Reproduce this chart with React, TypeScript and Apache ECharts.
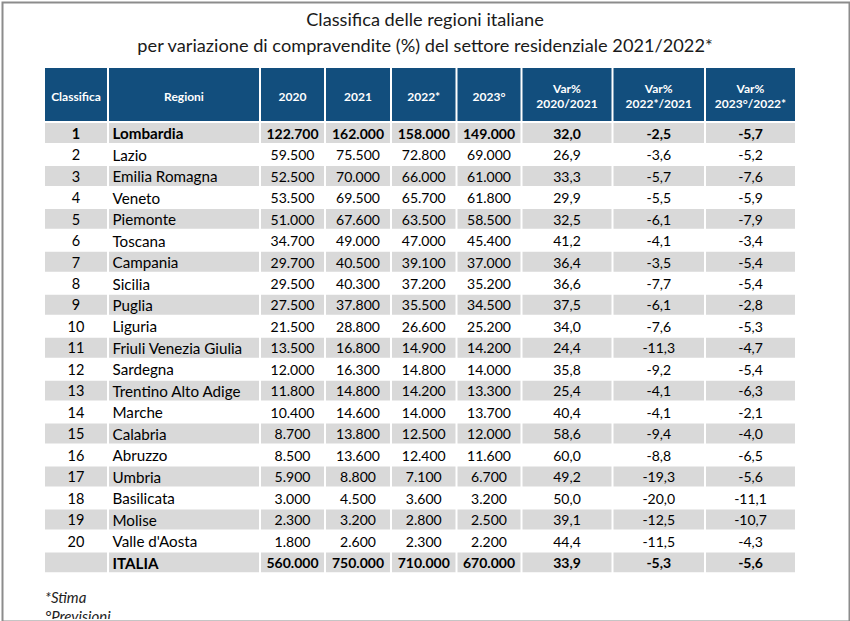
import React, { useEffect, useRef } from "react";
import * as echarts from "echarts";

const TITLE_LINES = [
  "Classifica delle regioni italiane",
  "per variazione di compravendite (%) del settore residenziale 2021/2022*",
];
const HEADERS = [
  "Classifica",
  "Regioni",
  "2020",
  "2021",
  "2022*",
  "2023°",
  "Var%\n2020/2021",
  "Var%\n2022*/2021",
  "Var%\n2023°/2022*",
];
const RANKS = ["1", "2", "3", "4", "5", "6", "7", "8", "9", "10", "11", "12", "13", "14", "15", "16", "17", "18", "19", "20", ""];
const REGIONS = [
  "Lombardia", "Lazio", "Emilia Romagna", "Veneto", "Piemonte", "Toscana", "Campania", "Sicilia", "Puglia", "Liguria",
  "Friuli Venezia Giulia", "Sardegna", "Trentino Alto Adige", "Marche", "Calabria", "Abruzzo", "Umbria", "Basilicata",
  "Molise", "Valle d'Aosta", "ITALIA",
];
const V2020 = [122700, 59500, 52500, 53500, 51000, 34700, 29700, 29500, 27500, 21500, 13500, 12000, 11800, 10400, 8700, 8500, 5900, 3000, 2300, 1800, 560000];
const V2021 = [162000, 75500, 70000, 69500, 67600, 49000, 40500, 40300, 37800, 28800, 16800, 16300, 14800, 14600, 13800, 13600, 8800, 4500, 3200, 2600, 750000];
const V2022 = [158000, 72800, 66000, 65700, 63500, 47000, 39100, 37200, 35500, 26600, 14900, 14800, 14200, 14000, 12500, 12400, 7100, 3600, 2800, 2300, 710000];
const V2023 = [149000, 69000, 61000, 61800, 58500, 45400, 37000, 35200, 34500, 25200, 14200, 14000, 13300, 13700, 12000, 11600, 6700, 3200, 2500, 2200, 670000];
const VAR_20_21 = [32.0, 26.9, 33.3, 29.9, 32.5, 41.2, 36.4, 36.6, 37.5, 34.0, 24.4, 35.8, 25.4, 40.4, 58.6, 60.0, 49.2, 50.0, 39.1, 44.4, 33.9];
const VAR_22_21 = [-2.5, -3.6, -5.7, -5.5, -6.1, -4.1, -3.5, -7.7, -6.1, -7.6, -11.3, -9.2, -4.1, -4.1, -9.4, -8.8, -19.3, -20.0, -12.5, -11.5, -5.3];
const VAR_23_22 = [-5.7, -5.2, -7.6, -5.9, -7.9, -3.4, -5.4, -5.4, -2.8, -5.3, -4.7, -5.4, -6.3, -2.1, -4.0, -6.5, -5.6, -11.1, -10.7, -4.3, -5.6];
const BOLD_ROWS = ["Lombardia", "ITALIA"];
const NOTES = ["*Stima", "°Previsioni"];

// layout (not data)
const COL_W = [64, 152, 65, 66, 65.5, 65, 91, 92.5, 91];
const HEADER_H = 54.5;
const ROW_H = 21.47;
const FONT = "Lato, 'Open Sans', sans-serif";
const HEADER_BG = "#124e7d";
const STRIPE = "#d9d9d9";

const fmtInt = (n: number) => String(n).replace(/\B(?=(\d{3})+(?!\d))/g, ".");
const fmtDec = (n: number) => n.toFixed(1).replace(".", ",");

function buildCells() {
  const table: string[][] = [HEADERS];
  for (let i = 0; i < REGIONS.length; i++) {
    table.push([
      RANKS[i],
      REGIONS[i],
      fmtInt(V2020[i]),
      fmtInt(V2021[i]),
      fmtInt(V2022[i]),
      fmtInt(V2023[i]),
      fmtDec(VAR_20_21[i]),
      fmtDec(VAR_22_21[i]),
      fmtDec(VAR_23_22[i]),
    ]);
  }
  const cells: any[] = [];
  table.forEach((row, r) => {
    row.forEach((txt, c) => {
      cells.push({ value: [c, r], txt });
    });
  });
  return { table, cells };
}

export default function App() {
  const ref = useRef<HTMLDivElement>(null);
  useEffect(() => {
    document.body.style.margin = "0";
    if (!ref.current) return;
    const chart = echarts.init(ref.current, null, { renderer: "svg" });
    const { table, cells } = buildCells();
    const colStart: number[] = [];
    let acc = 0;
    COL_W.forEach((w) => {
      colStart.push(acc);
      acc += w;
    });
    const totalW = acc;
    const totalH = HEADER_H + ROW_H * (table.length - 1);
    const rowTop = (r: number) => (r === 0 ? 0 : HEADER_H + (r - 1) * ROW_H);
    const rowBot = (r: number) => (r === 0 ? HEADER_H : HEADER_H + r * ROW_H);

    const renderItem = (params: any, api: any) => {
      const c = api.value(0);
      const r = api.value(1);
      const txt = cells[params.dataIndex].txt;
      const p0 = api.coord([colStart[c], rowTop(r)]);
      const p1 = api.coord([colStart[c] + COL_W[c], rowBot(r)]);
      const x0 = p0[0] + 1;
      const x1 = p1[0] - 1;
      const children: any[] = [];
      if (r === 0) {
        const y0 = p0[1];
        const y1 = p1[1] - 1.5;
        children.push({ type: "rect", shape: { x: x0, y: y0, width: x1 - x0, height: y1 - y0 }, style: { fill: HEADER_BG } });
        children.push({
          type: "text",
          style: {
            text: txt,
            x: (x0 + x1) / 2,
            y: (y0 + y1) / 2 + 1.5,
            fill: "#ffffff",
            font: `bold 12px ${FONT}`,
            fontWeight: "bold",
            fontSize: 12,
            fontFamily: FONT,
            lineHeight: 15.5,
            align: "center",
            verticalAlign: "middle",
            textAlign: "center",
            textVerticalAlign: "middle",
          },
        });
      } else {
        const y0 = p0[1] + 0.5;
        const y1 = p1[1] - 1;
        if (r % 2 === 1) {
          children.push({ type: "rect", shape: { x: x0, y: y0, width: x1 - x0, height: y1 - y0 }, style: { fill: STRIPE } });
        }
        const bold = BOLD_ROWS.indexOf(table[r][1]) >= 0;
        const left = c === 1;
        const size = left ? 15.2 : c === 0 ? 14.5 : 14;
        children.push({
          type: "text",
          style: {
            text: txt,
            x: left ? x0 + 3.5 : (x0 + x1) / 2,
            y: (p0[1] + p1[1]) / 2,
            fill: "#000000",
            font: `${bold ? "bold " : ""}${size}px ${FONT}`,
            fontWeight: bold ? "bold" : "normal",
            fontSize: size,
            fontFamily: FONT,
            align: left ? "left" : "center",
            verticalAlign: "middle",
            textAlign: left ? "left" : "center",
            textVerticalAlign: "middle",
          },
        });
      }
      return { type: "group", children };
    };

    chart.setOption({
      animation: false,
      backgroundColor: "#ffffff",
      title: {
        text: TITLE_LINES.join("\n"),
        left: "center",
        top: 1,
        textStyle: { fontFamily: FONT, fontSize: 18.2, fontWeight: "normal", color: "#1a1a1a", lineHeight: 26 },
      },
      grid: { left: 44, top: 68, width: totalW, height: totalH },
      xAxis: { type: "value", min: 0, max: totalW, show: false },
      yAxis: { type: "value", min: 0, max: totalH, inverse: true, show: false },
      series: [
        {
          type: "custom",
          renderItem,
          data: cells,
          clip: false,
        },
      ],
      graphic: [
        {
          type: "text",
          left: 45,
          top: 589,
          style: { text: NOTES[0], fill: "#222", font: `italic 15px ${FONT}` },
        },
        {
          type: "text",
          left: 45,
          top: 608,
          style: { text: NOTES[1], fill: "#222", font: `italic 15px ${FONT}` },
        },
        { type: "rect", left: 0, top: 619, shape: { width: 850, height: 2 }, style: { fill: "#ffffff" }, z: 10 },
        {
          type: "rect",
          left: 0,
          top: 0,
          shape: { x: 0, y: 0, width: 847, height: 619 },
          style: { fill: "none", stroke: "#8c8c8c", lineWidth: 2 },
          z: 11,
        },
      ],
    });
    return () => chart.dispose();
  }, []);
  return <div ref={ref} style={{ width: 850, height: 621 }} />;
}
